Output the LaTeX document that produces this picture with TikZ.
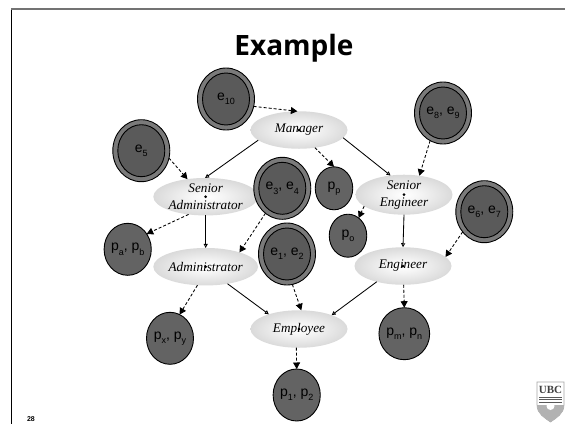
\documentclass[tikz,border=0pt]{standalone}
\usepackage{fontspec}
\setmainfont{Liberation Sans}
\newfontfamily\timesf{Liberation Serif}
\newfontfamily\titlef{Open Sans}
\usetikzlibrary{shapes.geometric,arrows.meta}
\definecolor{ringout}{HTML}{7A7A7A}
\definecolor{ringin}{HTML}{5A5A5A}
\definecolor{pfill}{HTML}{636363}
\pgfdeclareradialshading{ellshade}{\pgfpoint{0bp}{0bp}}{color(0bp)=(white); color(8bp)=(white!96!black); color(50bp)=(black!30)}
\newcommand\subs[1]{\raisebox{-0.3em}{\fontsize{9}{9}\selectfont #1}}
\tikzset{
  role/.style={ellipse,minimum width=97pt,minimum height=37.5pt,inner sep=0pt,outer sep=0pt,
    shading=ellshade,align=center,font=\timesf\itshape\fontsize{13.2}{16.7}\selectfont,
    path picture={\fill[black] (path picture bounding box.center) circle (1.5pt);}},
  perm/.style={ellipse,draw=black,line width=0.9pt,fill=pfill,inner sep=0pt,outer sep=0pt,
    font=\fontsize{14}{16}\selectfont,minimum width=47pt,minimum height=52pt},
  smallperm/.style={perm,minimum width=37.5pt,minimum height=43pt},
  ent/.style={ellipse,draw=black,line width=0.9pt,fill=ringout,inner sep=0pt,outer sep=0pt,
    font=\fontsize{14}{16}\selectfont,minimum width=57pt,minimum height=62pt,
    path picture={\draw[black,line width=0.9pt,fill=ringin] (path picture bounding box.center) ellipse (23.5pt and 26pt);}},
  assign/.style={densely dashed,line width=0.85pt,-{Triangle[fill=black,length=6.5pt,width=7pt]}},
  inherit/.style={line width=0.85pt,-{Triangle[open,fill=white,length=4pt,width=4pt]}},
}
\begin{document}
\begin{tikzpicture}[x=1pt,y=-1pt]
\useasboundingbox (0,0) rectangle (565,424);
\fill[white] (0,0) rectangle (565,424);
% frame
\draw[black,line width=1pt] (11.5,9) -- (11.5,424);
\draw[black!55,line width=2pt] (11,9) -- (565,9);
% title and page number
\node[anchor=base,font=\titlef\bfseries\fontsize{28}{30}\selectfont,inner sep=0pt] (title) at (294,55) {Example};
\node[font=\bfseries\fontsize{7}{8}\selectfont,inner sep=0pt] (page) at (31,419) {28};
% roles
\node[role] (mgr) at (299,130) {Manager};
\node[role] (sa) at (205.7,196.7) {Senior\\Administrator};
\node[role] (se) at (404,194.7) {Senior\\Engineer};
\node[role] (adm) at (205.7,266.7) {Administrator};
\node[role] (eng) at (403,266) {Engineer};
\node[role] (emp) at (299,329) {Employee};
% entities
\node[ent] (e10) at (226,99) {e\subs{10}};
\node[ent] (e5) at (141.3,150.7) {e\subs{5}};
\node[ent] (e34) at (282.3,188.3) {e\subs{3}, e\subs{4}};
\node[ent] (e89) at (443,113) {e\subs{8}, e\subs{9}};
\node[ent] (e67) at (484.3,211.7) {e\subs{6}, e\subs{7}};
\node[ent] (e12) at (287,254) {e\subs{1}, e\subs{2}};
% permissions
\node[smallperm] (pp) at (334,188.3) {p\subs{p}};
\node[smallperm] (po) at (348,235.7) {p\subs{o}};
\node[perm] (pab) at (127.7,249.3) {p\subs{a}, p\subs{b}};
\node[perm] (pxy) at (170,338.3) {p\subs{x}, p\subs{y}};
\node[perm] (pmn) at (404.3,333.7) {p\subs{m}, p\subs{n}};
\node[perm] (p12) at (296.7,395) {p\subs{1}, p\subs{2}};
% hierarchy
\draw[inherit] (mgr.194) -- (sa.92);
\draw[inherit] (mgr.-10) -- (se.125);
\draw[inherit] (sa.-90) -- (adm.90);
\draw[inherit] (se.-90) -- (eng.90);
\draw[inherit] (adm.-38) -- (emp.154);
\draw[inherit] (eng.211) -- (emp.23);
% assignments
\draw[assign] (e10.-15) -- (mgr.95);
\draw[assign] (mgr.-48) -- (pp.90);
\draw[assign] (e5.-15) -- (sa.136);
\draw[assign] (sa.226) -- (pab.39);
\draw[assign] (e34.236) -- (adm.23);
\draw[assign] (e89.245) -- (se.51);
\draw[assign] (se.196) -- (po.59);
\draw[assign] (e67.223) -- (eng.12);
\draw[assign] (eng.-88) -- (pmn.90);
\draw[assign] (adm.246) -- (pxy.68);
\draw[assign] (e12.-80) -- (emp.83);
\draw[assign] (emp.-98) -- (p12.90);
% UBC crest
\draw[black!35,line width=0.6pt,fill=white] (537,382) -- (564,382) -- (564,405)
  .. controls (564,414) and (556,418) .. (550.5,422)
  .. controls (545,418) and (537,414) .. (537,405) -- cycle;
\begin{scope}
\clip (537,382) -- (564,382) -- (564,405)
  .. controls (564,414) and (556,418) .. (550.5,422)
  .. controls (545,418) and (537,414) .. (537,405) -- cycle;
\fill[black!30] (537,405) rectangle (564,423);
\fill[white] (550.5,406) circle (4pt);
\foreach \a in {-160,-140,...,-20}{\draw[white,line width=0.7pt] (550.5,404) -- ++(\a:-13pt);}
\end{scope}
\node[font=\timesf\bfseries\fontsize{11}{11}\selectfont,inner sep=0pt,text=black!75] (ubc) at (550.5,389.5) {UBC};
\foreach \yy in {397,399.5,402}{\draw[black!65,line width=0.9pt] (539,\yy) -- (562,\yy);}
\end{tikzpicture}
\end{document}
